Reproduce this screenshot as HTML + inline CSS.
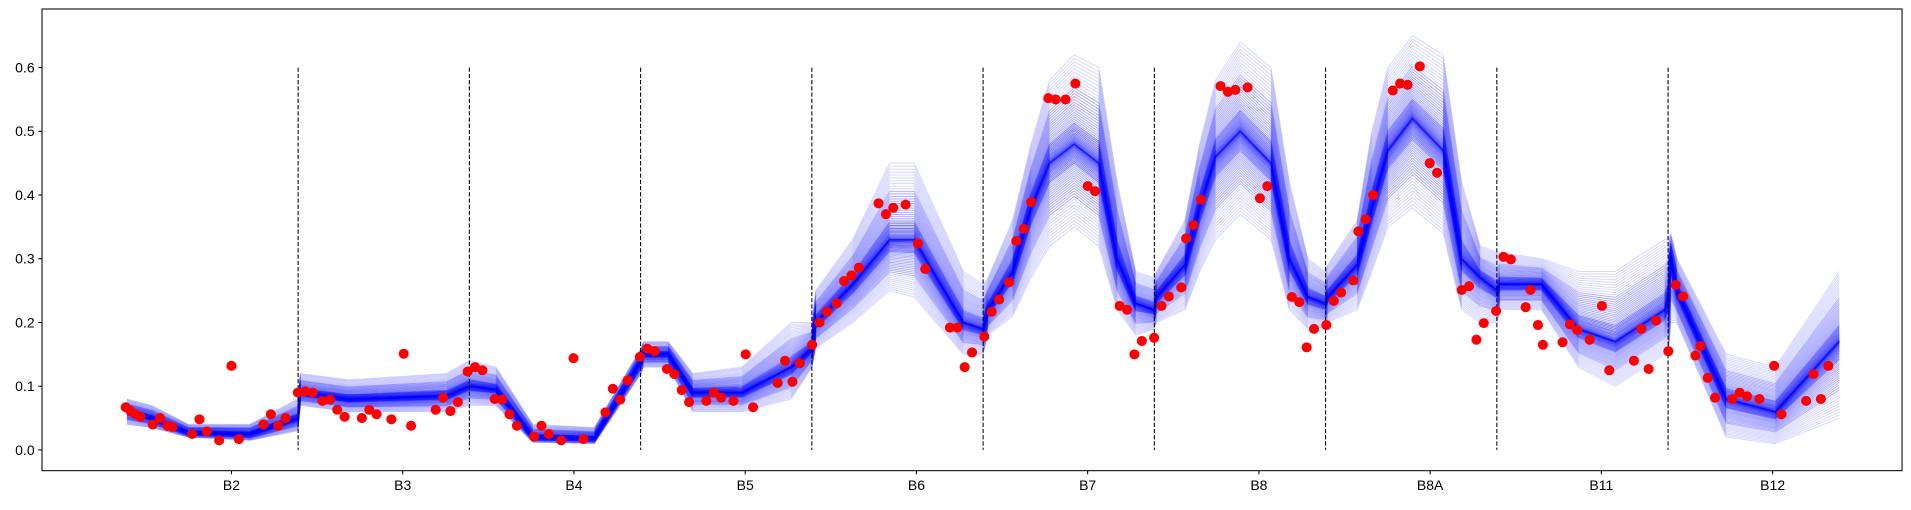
<!DOCTYPE html>
<html><head><meta charset="utf-8"><style>
body{margin:0;background:#fff;}
svg text{font-family:"Liberation Sans",sans-serif;font-size:11.4px;fill:#000;}
</style></head><body>
<svg id="chart" width="1911" height="505" xmlns="http://www.w3.org/2000/svg">
<rect x="0" y="0" width="1911" height="505" fill="#fff"/>
<g transform="translate(42,9) scale(1.2302,1.2214) translate(-35,-8)">
<g id="lines"></g>
<g id="dashes"></g>
<g id="dots"></g>
<g id="axes"></g>
</g>
</svg>
<script>
const bands=["B2","B3","B4","B5","B6","B7","B8","B8A","B11","B12"];
const yTicks=[0.0,0.1,0.2,0.3,0.4,0.5,0.6];
const qx=[0,20,50,100,139,141,180,260,278,280,300,330,380,418,420,440,460,500,540,557,560,590,620,640,680,696,700,720,735,750,770,790,805,820,835,837,860,872,885,905,930,945,960,974,976,1000,1012,1025,1045,1070,1085,1100,1114,1116,1150,1180,1210,1250,1253,1255,1260,1300,1340,1392];
const qLo=[0.04,0.035,0.02,0.015,0.03,0.07,0.06,0.06,0.07,0.07,0.07,0.012,0.01,0.12,0.13,0.13,0.06,0.06,0.08,0.13,0.16,0.2,0.25,0.24,0.15,0.15,0.18,0.21,0.27,0.32,0.35,0.32,0.22,0.18,0.19,0.2,0.22,0.28,0.33,0.37,0.33,0.22,0.19,0.19,0.2,0.22,0.28,0.35,0.38,0.34,0.22,0.2,0.2,0.22,0.22,0.13,0.1,0.15,0.15,0.2,0.2,0.02,0.01,0.05];
const qMid=[0.06,0.05,0.027,0.025,0.05,0.09,0.08,0.085,0.1,0.1,0.095,0.02,0.018,0.14,0.15,0.15,0.09,0.09,0.13,0.16,0.2,0.26,0.33,0.33,0.2,0.19,0.22,0.28,0.38,0.45,0.48,0.45,0.3,0.23,0.22,0.24,0.29,0.38,0.46,0.5,0.45,0.3,0.24,0.23,0.24,0.29,0.38,0.47,0.52,0.47,0.3,0.27,0.25,0.26,0.26,0.19,0.17,0.22,0.24,0.3,0.25,0.08,0.06,0.17];
const qHi=[0.08,0.07,0.04,0.04,0.08,0.12,0.11,0.12,0.14,0.14,0.13,0.04,0.035,0.16,0.17,0.17,0.12,0.13,0.2,0.2,0.25,0.33,0.45,0.45,0.28,0.26,0.27,0.36,0.48,0.58,0.62,0.6,0.42,0.28,0.27,0.28,0.36,0.48,0.58,0.64,0.6,0.42,0.3,0.28,0.29,0.36,0.5,0.6,0.65,0.62,0.42,0.32,0.31,0.31,0.3,0.28,0.28,0.33,0.33,0.34,0.3,0.15,0.13,0.28];
const dotX=[-1,3,7,11,21,27,33,37,53,59,65,75,85,91,111,117,123,129,
139,145,151,159,165,171,177,191,197,203,215,225,231,251,257,263,269,277,283,289,
299,305,311,317,331,337,343,353,363,371,389,395,401,407,417,423,429,
439,445,451,457,471,477,483,493,503,509,529,535,541,547,557,
563,569,577,583,589,595,611,617,623,633,643,649,669,675,681,687,697,
703,709,717,723,729,735,749,755,763,771,781,787,807,813,819,825,835,
841,847,857,861,867,873,889,895,901,911,921,927,947,953,959,965,975,
981,987,997,1001,1007,1013,1029,1035,1041,1051,1059,1065,1085,1091,1097,1103,1113,
1119,1125,1137,1141,1147,1151,1167,1173,1179,1189,1199,1205,1225,1231,1237,1243,1253,
1259,1265,1275,1279,1285,1291,1305,1311,1317,1327,1339,1345,1365,1371,1377,1383];
const dotY=[0.067,0.061,0.056,0.052,0.040,0.050,0.038,0.036,0.025,0.048,0.029,0.015,0.132,0.017,0.040,0.056,0.038,0.050,
0.09,0.092,0.09,0.077,0.079,0.063,0.052,0.05,0.063,0.056,0.048,0.151,0.038,0.063,0.082,0.061,0.075,0.123,0.13,0.125,
0.08,0.079,0.056,0.038,0.021,0.038,0.025,0.015,0.144,0.017,0.059,0.096,0.079,0.109,0.146,0.159,0.155,
0.127,0.119,0.094,0.075,0.077,0.09,0.082,0.077,0.15,0.067,0.105,0.14,0.107,0.136,0.165,
0.2,0.217,0.23,0.265,0.274,0.286,0.387,0.37,0.38,0.385,0.324,0.284,0.192,0.192,0.13,0.153,0.178,
0.217,0.236,0.263,0.328,0.347,0.389,0.552,0.55,0.55,0.575,0.414,0.406,0.226,0.22,0.15,0.171,0.176,
0.226,0.241,0.255,0.332,0.353,0.393,0.571,0.562,0.565,0.569,0.395,0.414,0.24,0.232,0.161,0.19,0.196,
0.234,0.247,0.266,0.343,0.362,0.4,0.564,0.575,0.573,0.602,0.45,0.435,0.251,0.257,0.173,0.199,0.218,
0.303,0.299,0.224,0.251,0.196,0.165,0.169,0.197,0.188,0.173,0.226,0.125,0.14,0.19,0.127,0.203,0.155,
0.259,0.241,0.148,0.163,0.113,0.082,0.08,0.09,0.084,0.08,0.132,0.056,0.077,0.119,0.08,0.132];
const NS='http://www.w3.org/2000/svg';
const X=u=>104+u;
const Y=v=>369-v*521.7;
const L=35,R=1547,T=8,B=386;
function mk(tag,attrs,parent){const e=document.createElementNS(NS,tag);for(const k in attrs)e.setAttribute(k,attrs[k]);parent.appendChild(e);return e;}
const gl=document.getElementById('lines');
const N=80;
for(let k=0;k<=N;k++){
  const s=2*k/N-1;const w=Math.pow(Math.abs(s),1.6);
  let d='';
  for(let i=0;i<qx.length;i++){
    const v=s>=0?qMid[i]+(qHi[i]-qMid[i])*w:qMid[i]-(qMid[i]-qLo[i])*w;
    d+=(i?'L':'M')+X(qx[i]).toFixed(1)+','+Y(v).toFixed(1);
  }
  const a=Math.abs(s);
  const p=mk('path',{d:d,fill:'none',stroke:'#0000ff','stroke-width':0.85,'stroke-linejoin':'round','stroke-opacity':a>0.75?0.15:(a>0.4?0.3:0.5)},gl);
  
  
}
const gd=document.getElementById('dashes');
for(let b=1;b<bands.length;b++){
  const x=X(139.2*b);
  const l=mk('line',{x1:x,x2:x,y1:Y(0.6),y2:Y(0),stroke:'#000','stroke-width':0.85,'stroke-dasharray':'3.5,1.6'},gd);
  
  
}
const gp=document.getElementById('dots');
for(let i=0;i<dotX.length;i++){
  const c=mk('circle',{cx:X(dotX[i]),cy:Y(dotY[i]),r:4.1,fill:'#ff0000'},gp);
  
  
}
const ga=document.getElementById('axes');
const fr=mk('rect',{x:L,y:T,width:R-L,height:B-T,fill:'none',stroke:'#000','stroke-width':0.85},ga);


yTicks.forEach(v=>{
  const y=Y(v);
  const t=mk('line',{x1:L-3,x2:L,y1:y,y2:y,stroke:'#000','stroke-width':0.85},ga);
  
  
  const tx=mk('text',{x:L-6,y:y+4,'text-anchor':'end'},ga);tx.textContent=v.toFixed(1);
  
  
});
bands.forEach((b,i)=>{
  const x=X(139.2*i+85);
  const t=mk('line',{x1:x,x2:x,y1:B,y2:B+3,stroke:'#000','stroke-width':0.85},ga);
  
  
  const tx=mk('text',{x:x,y:B+16,'text-anchor':'middle'},ga);tx.textContent=b;
  
  
});
</script>
</body></html>
